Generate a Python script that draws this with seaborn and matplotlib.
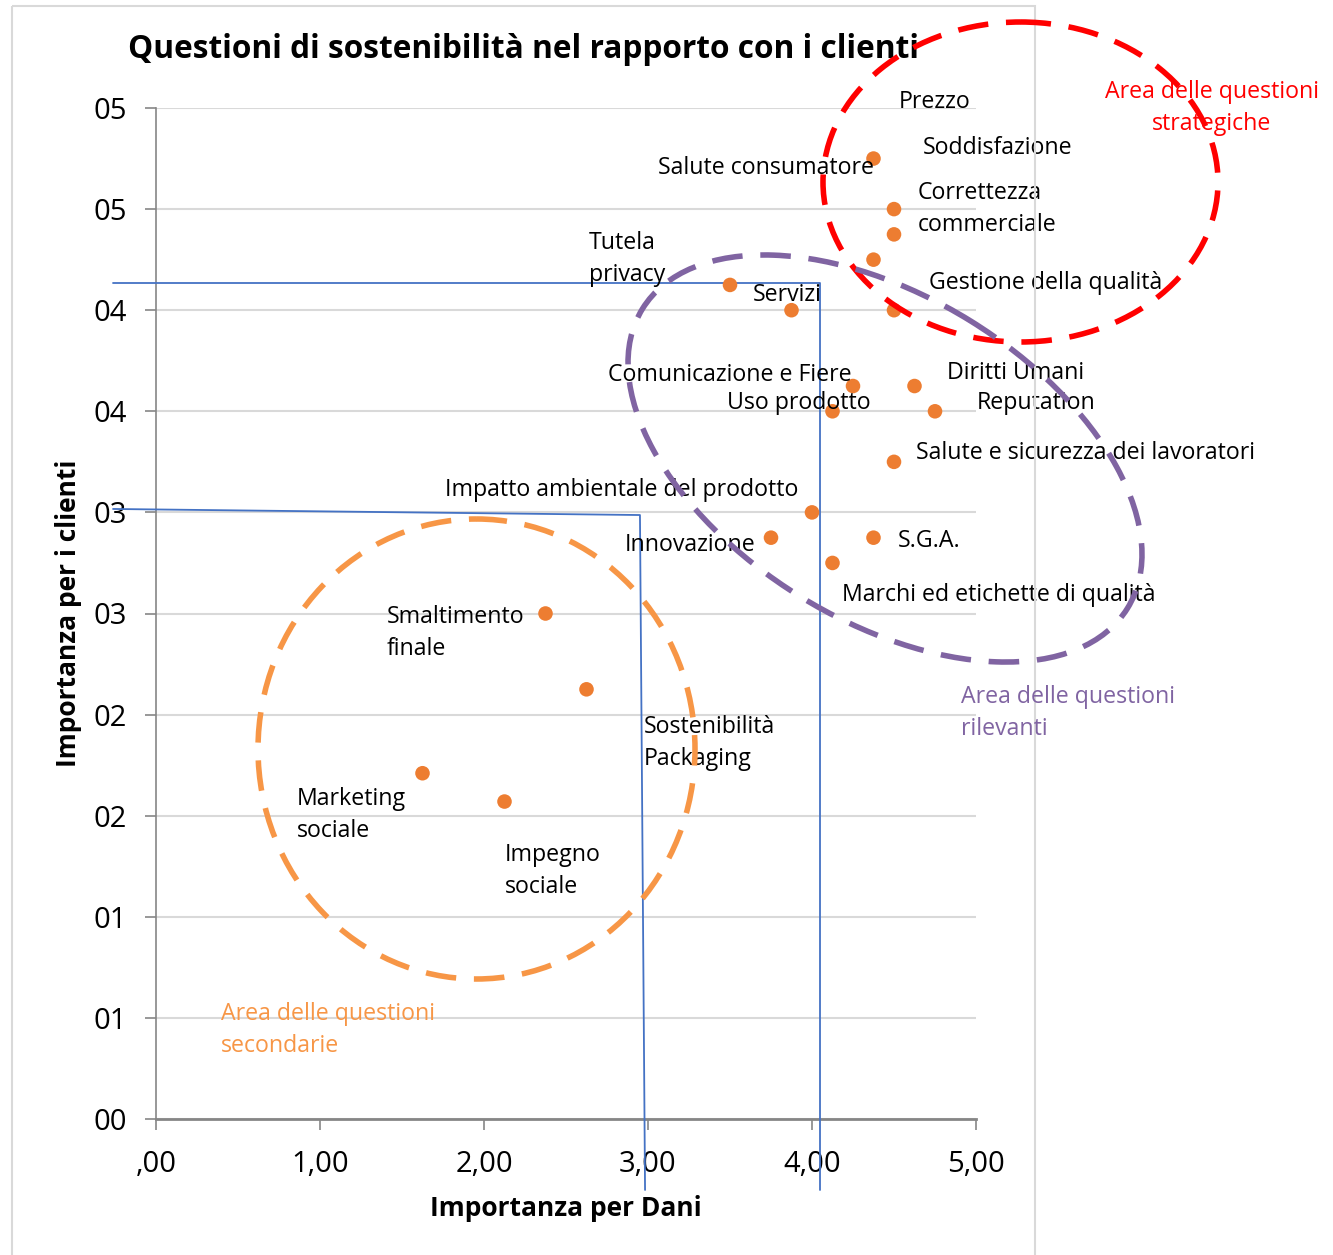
import matplotlib
matplotlib.use("Agg")
import matplotlib.pyplot as plt
import seaborn as sns
import pandas as pd
import numpy as np
from matplotlib.patches import Ellipse, Rectangle
from matplotlib.lines import Line2D
from matplotlib.transforms import Affine2D
from matplotlib.ticker import FixedLocator, FuncFormatter

# ---------------- data ----------------
issues = ["Salute consumatore", "Prezzo", "Soddisfazione", "Correttezza commerciale",
          "Tutela privacy", "Gestione della qualità", "Servizi", "Comunicazione e Fiere",
          "Diritti Umani", "Reputation", "Uso prodotto", "Salute e sicurezza dei lavoratori",
          "Impatto ambientale del prodotto", "Innovazione", "S.G.A.",
          "Marchi ed etichette di qualità", "Smaltimento finale", "Sostenibilità Packaging",
          "Marketing sociale", "Impegno sociale"]
importanza_dani = [4.375, 4.5, 4.5, 4.375, 3.5, 4.5, 3.875, 4.25, 4.625, 4.75, 4.125, 4.5,
                   4.0, 3.75, 4.375, 4.125, 2.375, 2.625, 1.625, 2.125]
importanza_clienti = [4.75, 4.5, 4.375, 4.25, 4.125, 4.0, 4.0, 3.625, 3.625, 3.5, 3.5, 3.25,
                      3.0, 2.875, 2.875, 2.75, 2.5, 2.125, 1.71, 1.57]

# label texts as shown on the chart, and where they sit (data coords, left/center anchored)
label_texts = ["Salute consumatore", "Prezzo", "Soddisfazione", "Correttezza\ncommerciale",
               "Tutela\nprivacy", "Gestione della qualità", "Servizi", "Comunicazione e Fiere",
               "Diritti Umani", "Reputation", "Uso prodotto", "Salute e sicurezza dei lavoratori",
               "Impatto ambientale del prodotto", "Innovazione", "S.G.A.",
               "Marchi ed etichette di qualità", "Smaltimento\nfinale", "Sostenibilità\nPackaging",
               "Marketing\nsociale", "Impegno\nsociale"]
label_pos = [(3.061, 4.703), (4.530, 5.030), (4.677, 4.802), (4.646, 4.500),
             (2.640, 4.253), (4.713, 4.134), (3.640, 4.075), (2.756, 3.680),
             (4.823, 3.689), (5.006, 3.541), (3.482, 3.541), (4.634, 3.294),
             (1.762, 3.111), (2.860, 2.839), (4.524, 2.859), (4.183, 2.592),
             (1.409, 2.404), (2.976, 1.860), (0.860, 1.503), (2.128, 1.227)]

x_ticks = [0, 1, 2, 3, 4, 5]
y_ticks = [0, 0.5, 1, 1.5, 2, 2.5, 3, 3.5, 4, 4.5, 5]

df = pd.DataFrame({"issue": issues, "dani": importanza_dani, "clienti": importanza_clienti})

# ---------------- style ----------------
sns.set_theme(style="white")
FONT = ["Open Sans", "DejaVu Sans"]
plt.rcParams["font.family"] = FONT
plt.rcParams["text.color"] = "black"
plt.rcParams["axes.labelcolor"] = "black"

W, H = 1333, 1255
fig = plt.figure(figsize=(W / 100, H / 100), dpi=100)
fig.patch.set_facecolor("white")
ax = fig.add_axes([156 / W, 1 - 1119 / H, (976 - 156) / W, (1119 - 108) / H])

# pixel transform (top-left origin) for decorative shapes
pix = Affine2D().scale(1 / W, -1 / H).translate(0, 1) + fig.transFigure

# outer chart border
fig.patches.append(Rectangle((12, 6), 1023, 1300, transform=pix, fill=False,
                             edgecolor="#D9D9D9", linewidth=1.5, zorder=0))

sns.scatterplot(data=df, x="dani", y="clienti", ax=ax, color="#ED7D31", s=110,
                edgecolor="none", zorder=5, legend=False)

ax.set_xlim(0, 5)
ax.set_ylim(0, 5)
ax.xaxis.set_major_locator(FixedLocator(x_ticks))
ax.yaxis.set_major_locator(FixedLocator(y_ticks))
ax.xaxis.set_major_formatter(FuncFormatter(
    lambda v, p: (f"{v:.2f}".replace(".", ",")).lstrip("0") if v < 1 else f"{v:.2f}".replace(".", ",")))
ax.yaxis.set_major_formatter(FuncFormatter(lambda v, p: f"{int(v + 0.5):02d}"))
ax.grid(axis="y", color="#D9D9D9", linewidth=1.5)
ax.grid(axis="x", visible=False)
for s in ["top", "right"]:
    ax.spines[s].set_visible(False)
ax.spines["left"].set_color("#868686")
ax.spines["left"].set_linewidth(1.2)
ax.spines["bottom"].set_color("#868686")
ax.spines["bottom"].set_linewidth(2)
ax.tick_params(axis="both", which="major", direction="out", length=8, width=1.2,
               color="#868686", labelsize=21, labelcolor="black",
               bottom=True, left=True)
ax.tick_params(axis="x", pad=14)
ax.tick_params(axis="y", pad=13)
ax.set_xlabel("Importanza per Dani", fontsize=19, fontweight="bold", labelpad=12, color="black")
ax.set_ylabel("Importanza per i clienti", fontsize=19, fontweight="bold", labelpad=8, color="black")

# data labels
for t, (lx, ly) in zip(label_texts, label_pos):
    ax.text(lx, ly, t, fontsize=16.7, ha="left", va="center", color="black",
            linespacing=1.48, zorder=6, clip_on=False)

# title
fig.text(128 / W, 1 - 50 / H, "Questioni di sostenibilità nel rapporto con i clienti",
         fontsize=22.8, fontweight="bold", ha="left", va="center", color="black")

# threshold lines (blue)
ax.add_line(Line2D([-0.262, 4.049, 4.049], [4.134, 4.134, -0.351], color="#4472C4",
                   linewidth=1.3, clip_on=False, zorder=4))
ax.add_line(Line2D([-0.262, 2.951, 2.982], [3.017, 2.987, -0.351], color="#4472C4",
                   linewidth=1.3, clip_on=False, zorder=4))

# area ellipses (dashed)
ell_kw = dict(fill=False, linewidth=4.0, linestyle=(0, (5.5, 3.2)), transform=pix,
              clip_on=False, zorder=7)
fig.patches.append(Ellipse((1020.5, 182), 395, 320, angle=0, edgecolor="#FF0000", **ell_kw))
fig.patches.append(Ellipse((885, 458.5), 570, 324, angle=31.7, edgecolor="#8064A2", **ell_kw))
fig.patches.append(Ellipse((476.5, 749), 437, 460, angle=0, edgecolor="#F79646", **ell_kw))

# area labels
fig.text(1212 / W, 1 - 108 / H, "Area delle questioni\nstrategiche", color="#FF0000",
         fontsize=16.7, ha="center", va="center", linespacing=1.48)
fig.text(961 / W, 1 - 713 / H, "Area delle questioni\nrilevanti", color="#8064A2",
         fontsize=16.7, ha="left", va="center", linespacing=1.48)
fig.text(221 / W, 1 - 1030 / H, "Area delle questioni\nsecondarie", color="#F79646",
         fontsize=16.7, ha="left", va="center", linespacing=1.48)

fig.savefig("out.png", dpi=100, facecolor="white")
